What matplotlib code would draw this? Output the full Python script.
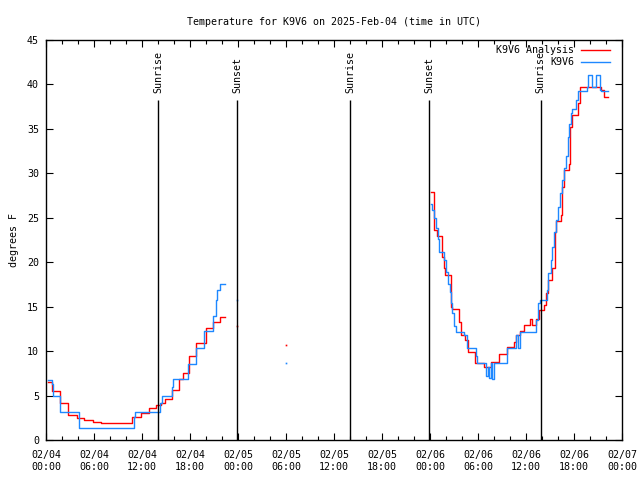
import matplotlib
matplotlib.use("Agg")
import matplotlib.pyplot as plt
import numpy as np
from matplotlib.lines import Line2D

plt.rcParams["font.family"] = "DejaVu Sans Mono"
plt.rcParams["font.size"] = 7.2

# time in hours since 2025-02-04 00:00 UTC, temperature in degrees F
analysis_hours = [0.3, 0.7, 1.8, 2.8, 3.9, 4.8, 5.9, 6.9, 10.7, 11.9, 12.9, 13.7, 14.4, 14.9,
                  15.8, 16.6, 17.1, 17.9, 18.8, 20.0, 20.9, 21.8, 22.4]
analysis_temps = [6.5, 5.5, 4.2, 2.8, 2.45, 2.2, 2.05, 1.95, 2.55, 3.05, 3.6, 3.9, 4.2, 4.6,
                  5.6, 6.9, 7.5, 9.4, 10.9, 12.55, 13.3, 13.8, 13.8]
analysis_hours_2 = [48.1, 48.5, 48.9, 49.5, 49.7, 49.9, 50.6, 50.8, 51.6, 51.9, 52.4, 52.7,
                    53.6, 54.8, 55.6, 56.6, 57.6, 58.5, 58.8, 59.3, 59.8, 60.5, 60.7, 61.3,
                    61.6, 62.3, 62.5, 62.7, 63.2, 63.6, 63.7, 64.4, 64.5, 64.7, 65.4, 65.5,
                    65.7, 66.5, 66.7, 69.4, 69.8, 70.3]
analysis_temps_2 = [27.9, 23.6, 22.9, 20.6, 19.3, 18.6, 15.0, 14.7, 13.3, 11.8, 11.2, 9.9,
                    8.7, 8.2, 8.8, 9.7, 10.5, 11.0, 11.8, 12.3, 12.9, 13.6, 12.9, 13.6,
                    14.6, 15.2, 16.5, 18.0, 19.3, 23.4, 24.6, 25.3, 28.5, 30.4, 31.1, 35.2,
                    36.6, 37.9, 39.7, 39.4, 38.6, 38.6]
analysis_dot_hours = [23.9, 30.0]
analysis_dot_temps = [12.8, 10.65]

obs_hours = [0.3, 0.75, 0.85, 1.8, 4.1, 11.0, 11.1, 14.3, 14.5, 15.7, 15.9, 17.7, 18.7,
             19.8, 20.9, 21.2, 21.4, 21.7, 22.4]
obs_temps = [6.8, 6.3, 5.0, 3.2, 1.4, 2.6, 3.2, 4.2, 5.0, 6.0, 6.85, 8.6, 10.4,
             12.25, 14.0, 15.8, 16.9, 17.6, 17.6]
obs_hours_2 = [48.1, 48.3, 48.5, 48.8, 49.0, 49.1, 49.75, 50.0, 50.3, 50.5, 50.6, 50.8,
               51.0, 51.2, 52.25, 52.6, 53.75, 53.9, 55.0, 55.25, 55.4, 55.6, 55.8, 56.0,
               57.6, 58.75, 59.0, 59.3, 61.25, 61.5, 61.75, 62.6, 62.8, 63.1, 63.3, 63.5,
               63.7, 64.0, 64.3, 64.5, 64.8, 65.0, 65.2, 65.4, 65.6, 65.8, 66.2, 66.5,
               67.6, 67.8, 68.2, 68.7, 69.2, 69.4, 70.2]
obs_temps_2 = [26.6, 25.9, 25.0, 23.9, 22.6, 21.2, 20.3, 18.9, 17.6, 16.7, 15.4, 14.3,
               12.8, 12.2, 11.8, 10.4, 9.4, 8.7, 7.2, 8.2, 7.0, 8.7, 6.9, 8.7,
               10.4, 11.8, 10.4, 12.2, 13.5, 15.4, 15.75, 16.9, 18.75, 20.25, 21.75, 23.4,
               24.75, 26.25, 27.75, 29.25, 30.56, 31.9, 34.1, 35.6, 36.75, 37.2, 38.25, 39.3,
               39.75, 41.06, 39.75, 41.06, 39.4, 39.3, 39.3]
obs_dot_hours = [23.9, 30.0]
obs_dot_temps = [15.8, 8.63]

sun_hours = [14.05, 23.9, 38.05, 47.9, 61.85]
sun_labels = ["Sunrise", "Sunset", "Sunrise", "Sunset", "Sunrise"]

tick_hours = list(range(0, 73, 6))
tick_labels = ["02/04\n00:00", "02/04\n06:00", "02/04\n12:00", "02/04\n18:00",
               "02/05\n00:00", "02/05\n06:00", "02/05\n12:00", "02/05\n18:00",
               "02/06\n00:00", "02/06\n06:00", "02/06\n12:00", "02/06\n18:00",
               "02/07\n00:00"]

red = "#ff0000"
blue = "#1e88ff"

fig = plt.figure(figsize=(6.4, 4.8), dpi=100)
ax = fig.add_axes([46 / 640, 40 / 480, 576 / 640, 400 / 480])

for hrs, temps in [(analysis_hours, analysis_temps), (analysis_hours_2, analysis_temps_2)]:
    ax.plot(hrs, temps, color=red, lw=1.0, drawstyle="steps-post")
for hrs, temps in [(obs_hours, obs_temps), (obs_hours_2, obs_temps_2)]:
    ax.plot(hrs, temps, color=blue, lw=1.0, drawstyle="steps-post")
ax.plot(analysis_dot_hours, analysis_dot_temps, "s", color=red, ms=1.2, mew=0)
ax.plot(obs_dot_hours, obs_dot_temps, "s", color=blue, ms=1.2, mew=0)

for h, label in zip(sun_hours, sun_labels):
    ax.vlines(h, 0, 38.3, color="black", lw=1.0)
    ax.text(h, 39.0, label, rotation=90, ha="center", va="bottom", fontsize=7.2)

ax.set_xlim(0, 72)
ax.set_ylim(0, 45)
ax.set_xticks(tick_hours)
ax.set_xticklabels(tick_labels, linespacing=1.25)
ax.set_xticks(np.arange(0, 73, 2), minor=True)
ax.set_yticks(np.arange(0, 46, 5))
ax.tick_params(which="both", direction="in", top=True, right=True, width=0.8)
ax.tick_params(which="major", length=5, pad=5)
ax.tick_params(axis="x", which="major", pad=7)
ax.tick_params(which="minor", length=3)
ax.tick_params(axis="y", which="minor", left=False, right=False)
for spine in ax.spines.values():
    spine.set_linewidth(1.0)

ax.set_ylabel("degrees F", labelpad=6)
ax.set_title("Temperature for K9V6 on 2025-Feb-04 (time in UTC)", fontsize=7.2, pad=11)

# legend drawn in axes coordinates, text right-aligned before the line sample
legend_items = [("K9V6 Analysis", red), ("K9V6", blue)]
for i, (name, col) in enumerate(legend_items):
    y = 0.975 - i * 0.03
    ax.add_line(Line2D([0.929, 0.979], [y, y], color=col, lw=1.0, transform=ax.transAxes))
    ax.text(0.917, y, name, ha="right", va="center", transform=ax.transAxes)

fig.savefig("out.png", dpi=100)
